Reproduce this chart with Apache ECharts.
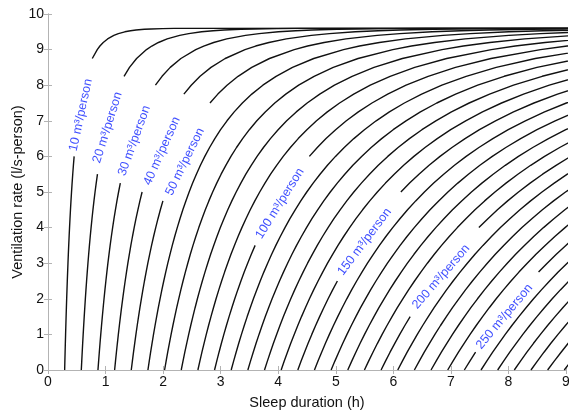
<!DOCTYPE html>
<html><head><meta charset="utf-8">
<script src="https://cdn.jsdelivr.net/npm/echarts@6/dist/echarts.min.js"></script>
<style>html,body{margin:0;padding:0;background:#fff}#c{width:569px;height:412px}</style>
</head><body><div id="c"></div>
<script>
// Ventilation rate levels (l/s-person) at which each contour is sampled
const ventilationLevels = [0,0.25,0.5,0.75,1,1.25,1.5,1.75,2,2.25,2.5,2.75,3,3.25,3.5,3.75,4,4.25,4.5,4.75,5,5.25,5.5,5.75,6,6.25,6.5,6.75,7,7.25,7.5,7.75,8,8.25,8.5,8.75,9,9.1,9.2,9.3,9.4,9.45,9.5,9.53,9.55,9.57,9.58,9.59,9.595,9.6];
// Sleep duration per m3 of room volume (h per m3/person) where each contour reaches the level above
const hoursPerM3 = [0.028935,0.029319,0.029716,0.030128,0.030556,0.031000,0.031463,0.031944,0.032447,0.032971,0.033519,0.034093,0.034694,0.035326,0.035990,0.036691,0.037431,0.038214,0.039045,0.039929,0.040873,0.041883,0.042968,0.044140,0.045409,0.046791,0.048306,0.049977,0.051835,0.053922,0.056290,0.059017,0.062214,0.066049,0.070799,0.076961,0.085574,0.090199,0.095956,0.103517,0.114397,0.122248,0.133461,0.143437,0.152923,0.167431,0.179012,0.198903,0.218866,1.0];
// Contour values: room volume (m3/person)
const volumes = [10,20,30,40,50,60,70,80,90,100,110,120,130,140,150,160,170,180,190,200,210,220,230,240,250,260,270,280,290,300,310];
// Labelled contours
const labeledVolumes = [10,20,30,40,50,100,150,200,250];
const labelGapLow  = [6.0,5.5,5.25,5.0,4.75,3.5,2.5,1.5,0.5];
const labelGapHigh = [8.75,8.25,8.0,7.75,7.5,6.0,5.0,4.0,2.75];
const labelX = [0.57,1.035,1.50,1.98,2.38,4.03,5.50,6.83,7.93];
const labelY = [7.16,6.81,6.44,6.15,5.85,4.68,3.60,2.62,1.50];
const labelAngle = [78,72.5,70,66,64,58,53,49,50];
const xTicks = [0,1,2,3,4,5,6,7,8,9];
const yTicks = [0,1,2,3,4,5,6,7,8,9,10];

const FONT = 'Liberation Sans, Arial, Helvetica, sans-serif';
const series = [];
volumes.forEach(function (v) {
  const li = labeledVolumes.indexOf(v);
  const data = [];
  let gapInserted = false;
  for (let i = 0; i < ventilationLevels.length; i++) {
    const y = ventilationLevels[i];
    if (li >= 0 && y > labelGapLow[li] && y < labelGapHigh[li]) {
      if (!gapInserted) { data.push(null); gapInserted = true; }
      continue;
    }
    data.push([hoursPerM3[i] * v, y]);
  }
  series.push({
    type: 'line', data: data, showSymbol: false, symbol: 'none', silent: true,
    connectNulls: false, clip: true, animation: false,
    lineStyle: { color: '#111', width: 1.4 }
  });
});
series.push({
  type: 'scatter', symbolSize: 0, silent: true, animation: false,
  data: labeledVolumes.map(function (v, k) {
    return {
      value: [labelX[k], labelY[k]],
      label: {
        show: true, position: 'inside', rotate: labelAngle[k],
        formatter: v + ' m\u00B3/person',
        color: '#0a1eff', fontSize: 12.5, fontFamily: FONT
      }
    };
  })
});

const axisGray = '#b3b3b3';
const chart = echarts.init(document.getElementById('c'), null, { renderer: 'canvas' });
chart.setOption({
  animation: false,
  backgroundColor: '#fff',
  grid: { left: 48, right: 3, top: 14, bottom: 42, containLabel: false, outerBoundsMode: 'none' },
  xAxis: [{
    type: 'value', min: xTicks[0], max: xTicks[xTicks.length - 1], interval: 1,
    name: 'Sleep duration (h)', nameLocation: 'middle', nameGap: 25, nameMoveOverlap: false,
    nameTextStyle: { fontSize: 14.5, color: '#111', fontFamily: FONT },
    axisLine: { show: true, lineStyle: { color: '#333', width: 1 } },
    axisTick: { show: true, inside: true, length: 4, lineStyle: { color: axisGray } },
    axisLabel: { fontSize: 14, color: '#111', margin: 5, fontFamily: FONT },
    splitLine: { show: false }
  }, {
    type: 'value', position: 'top', min: 0, max: 9, interval: 1,
    axisLine: { show: true, lineStyle: { color: axisGray } },
    axisTick: { show: true, inside: true, length: 4, lineStyle: { color: axisGray } },
    axisLabel: { show: false }, splitLine: { show: false }
  }],
  yAxis: [{
    type: 'value', min: yTicks[0], max: yTicks[yTicks.length - 1], interval: 1,
    name: 'Ventilation rate (l/s-person)', nameLocation: 'middle', nameGap: 23, nameRotate: 90,
    nameMoveOverlap: false,
    nameTextStyle: { fontSize: 14.5, color: '#111', fontFamily: FONT },
    axisLine: { show: true, lineStyle: { color: axisGray } },
    axisTick: { show: true, inside: true, length: 4, lineStyle: { color: axisGray } },
    axisLabel: { fontSize: 14, color: '#111', margin: 4, fontFamily: FONT },
    splitLine: { show: false }
  }, {
    type: 'value', position: 'right', min: 0, max: 10, interval: 1,
    axisLine: { show: true, lineStyle: { color: axisGray } },
    axisTick: { show: true, inside: true, length: 4, lineStyle: { color: axisGray } },
    axisLabel: { show: false }, splitLine: { show: false }
  }],
  series: series
});
</script></body></html>
